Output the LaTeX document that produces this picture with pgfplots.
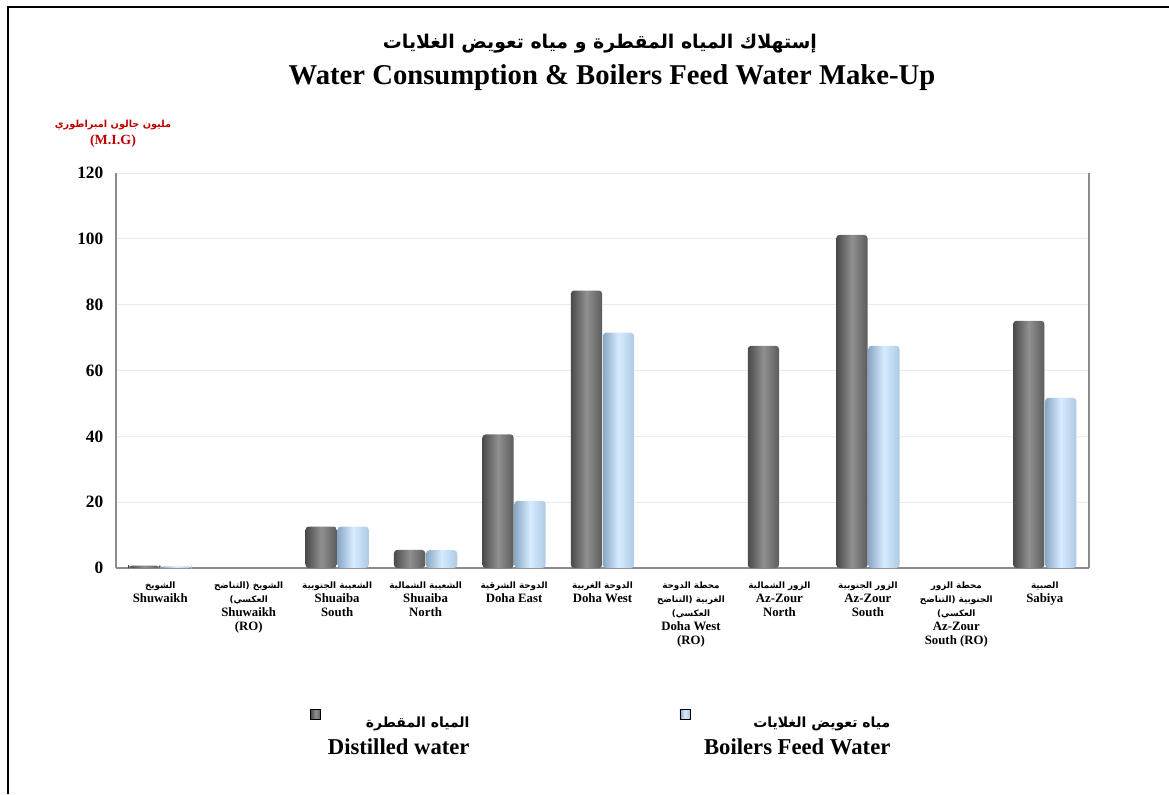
\documentclass[border=0pt]{standalone}
\usepackage{pgfplots}
\pgfplotsset{compat=1.18}
\usepackage{fontspec}
\setmainfont{Liberation Serif}
\newfontfamily\arabicfont[Script=Arabic]{DejaVu Sans}
\TeXXeTstate=1
\newcommand\af{\arabicfont\bfseries}
\newcommand\al{\arabicfont\bfseries\fontsize{6.6}{10.6}\selectfont}

\definecolor{gridc}{HTML}{EBEBEB}
\definecolor{axc}{HTML}{8C8C8C}
\definecolor{unitred}{HTML}{C00000}
\definecolor{dkL}{HTML}{4A4A4A}
\definecolor{dkM}{HTML}{909090}
\definecolor{dkR}{HTML}{5C5C5C}
\definecolor{blL}{HTML}{88A6C4}
\definecolor{blM}{HTML}{D6ECFF}
\definecolor{blR}{HTML}{AEC9E4}

\pgfplotsset{
  dk/.style={ybar, bar width=23.5pt, bar shift=-12pt, draw=none,
    left color=dkL, right color=dkR, middle color=dkM, rounded corners=2.5pt},
  bl/.style={ybar, bar width=23.5pt, bar shift=12pt, draw=none,
    left color=blL, right color=blR, middle color=blM, rounded corners=2.5pt},
}

\begin{document}
\begin{tikzpicture}
\useasboundingbox (0,0) rectangle (876.75pt,595.5pt);
\draw[line width=1.9pt] (6pt,0) -- (6pt,590.25pt) -- (877pt,590.25pt);

% titles
\node[font=\fontsize{14.2}{17}\selectfont] at (450pt,563pt) {{\af\beginR إستهلاك المياه المقطرة و مياه تعويض الغلايات\endR}};
\node[font=\bfseries\fontsize{21.5}{24}\selectfont] at (459pt,537.5pt) {Water Consumption \& Boilers Feed Water Make-Up};

% unit label
\node[text=unitred, font=\fontsize{7.3}{9}\selectfont] at (84.75pt,501.75pt) {{\af\beginR مليون جالون امبراطوري\endR}};
\node[text=unitred, font=\bfseries\fontsize{10.5}{12}\selectfont] at (84.75pt,489.75pt) {(M.I.G)};

\begin{axis}[
  at={(87pt,169.5pt)}, anchor=south west,
  width=729.75pt, height=296.25pt, scale only axis,
  ymin=0, ymax=120, ytick={0,20,...,120},
  xmin=-0.5, xmax=10.5, xtick={0,...,10},
  axis x line*=bottom, axis y line*=box,
  axis line style={axc, line width=0.9pt},
  ymajorgrids, major grid style={gridc, line width=0.6pt},
  major tick length=0pt,
  /pgf/number format/assume math mode=true,
  yticklabel style={font=\bfseries\fontsize{13}{13}\selectfont, xshift=-6pt},
  xticklabel style={font=\bfseries\fontsize{9.6}{10.6}\selectfont, align=center, yshift=-6.5pt},
  xticklabels={
    {{\al\beginR الشويخ\endR}\\Shuwaikh},
    {{\al\beginR الشويخ (التناضح\endR}\\{\al\beginR العكسي)\endR}\\Shuwaikh\\(RO)},
    {{\al\beginR الشعيبة الجنوبية\endR}\\Shuaiba\\South},
    {{\al\beginR الشعيبة الشمالية\endR}\\Shuaiba\\North},
    {{\al\beginR الدوحة الشرقية\endR}\\Doha East},
    {{\al\beginR الدوحة الغربية\endR}\\Doha West},
    {{\al\beginR محطة الدوحة\endR}\\{\al\beginR الغربية (التناضح\endR}\\{\al\beginR العكسي)\endR}\\Doha West\\(RO)},
    {{\al\beginR الزور الشمالية\endR}\\Az-Zour\\North},
    {{\al\beginR الزور الجنوبية\endR}\\Az-Zour\\South},
    {{\al\beginR محطة الزور\endR}\\{\al\beginR الجنوبية (التناضح\endR}\\{\al\beginR العكسي)\endR}\\Az-Zour\\South (RO)},
    {{\al\beginR الصبية\endR}\\Sabiya}
  },
  legend columns=2,
  legend image code/.code={\draw[#1, rounded corners=0pt] (0pt,0pt) rectangle (7.5pt,7.5pt);},
  legend style={at={(0.1995,-0.355)}, anchor=north west, draw=none, fill=none,
    inner sep=0pt, font=\bfseries\fontsize{17}{20.4}\selectfont,
    /tikz/every even column/.append style={column sep=157.5pt},
    nodes={inner sep=0pt}},
]
% Distilled water (dark) and Boilers Feed Water (blue), one bar per plot
\addplot[dk] coordinates {(0,0.7)};
\addplot[bl] coordinates {(0,0.5)};
\addplot[dk, forget plot] coordinates {(2,12.6)};
\addplot[dk, forget plot] coordinates {(3,5.5)};
\addplot[dk, forget plot] coordinates {(4,40.6)};
\addplot[dk, forget plot] coordinates {(5,84.3)};
\addplot[dk, forget plot] coordinates {(7,67.5)};
\addplot[dk, forget plot] coordinates {(8,101.2)};
\addplot[dk, forget plot] coordinates {(10,75.1)};
\addplot[bl, forget plot] coordinates {(2,12.6)};
\addplot[bl, forget plot] coordinates {(3,5.4)};
\addplot[bl, forget plot] coordinates {(4,20.4)};
\addplot[bl, forget plot] coordinates {(5,71.5)};
\addplot[bl, forget plot] coordinates {(8,67.5)};
\addplot[bl, forget plot] coordinates {(10,51.7)};
\legend{
  {\hspace{5.25pt}\begin{tabular}[t]{@{}r@{}}{\af\fontsize{10.5}{12}\selectfont\beginR المياه المقطرة\endR}\\Distilled water\end{tabular}},
  {\hspace{10.5pt}\begin{tabular}[t]{@{}r@{}}{\af\fontsize{10.5}{12}\selectfont\beginR مياه تعويض الغلايات\endR}\\Boilers Feed Water\end{tabular}}
}
\end{axis}
\end{tikzpicture}
\end{document}
